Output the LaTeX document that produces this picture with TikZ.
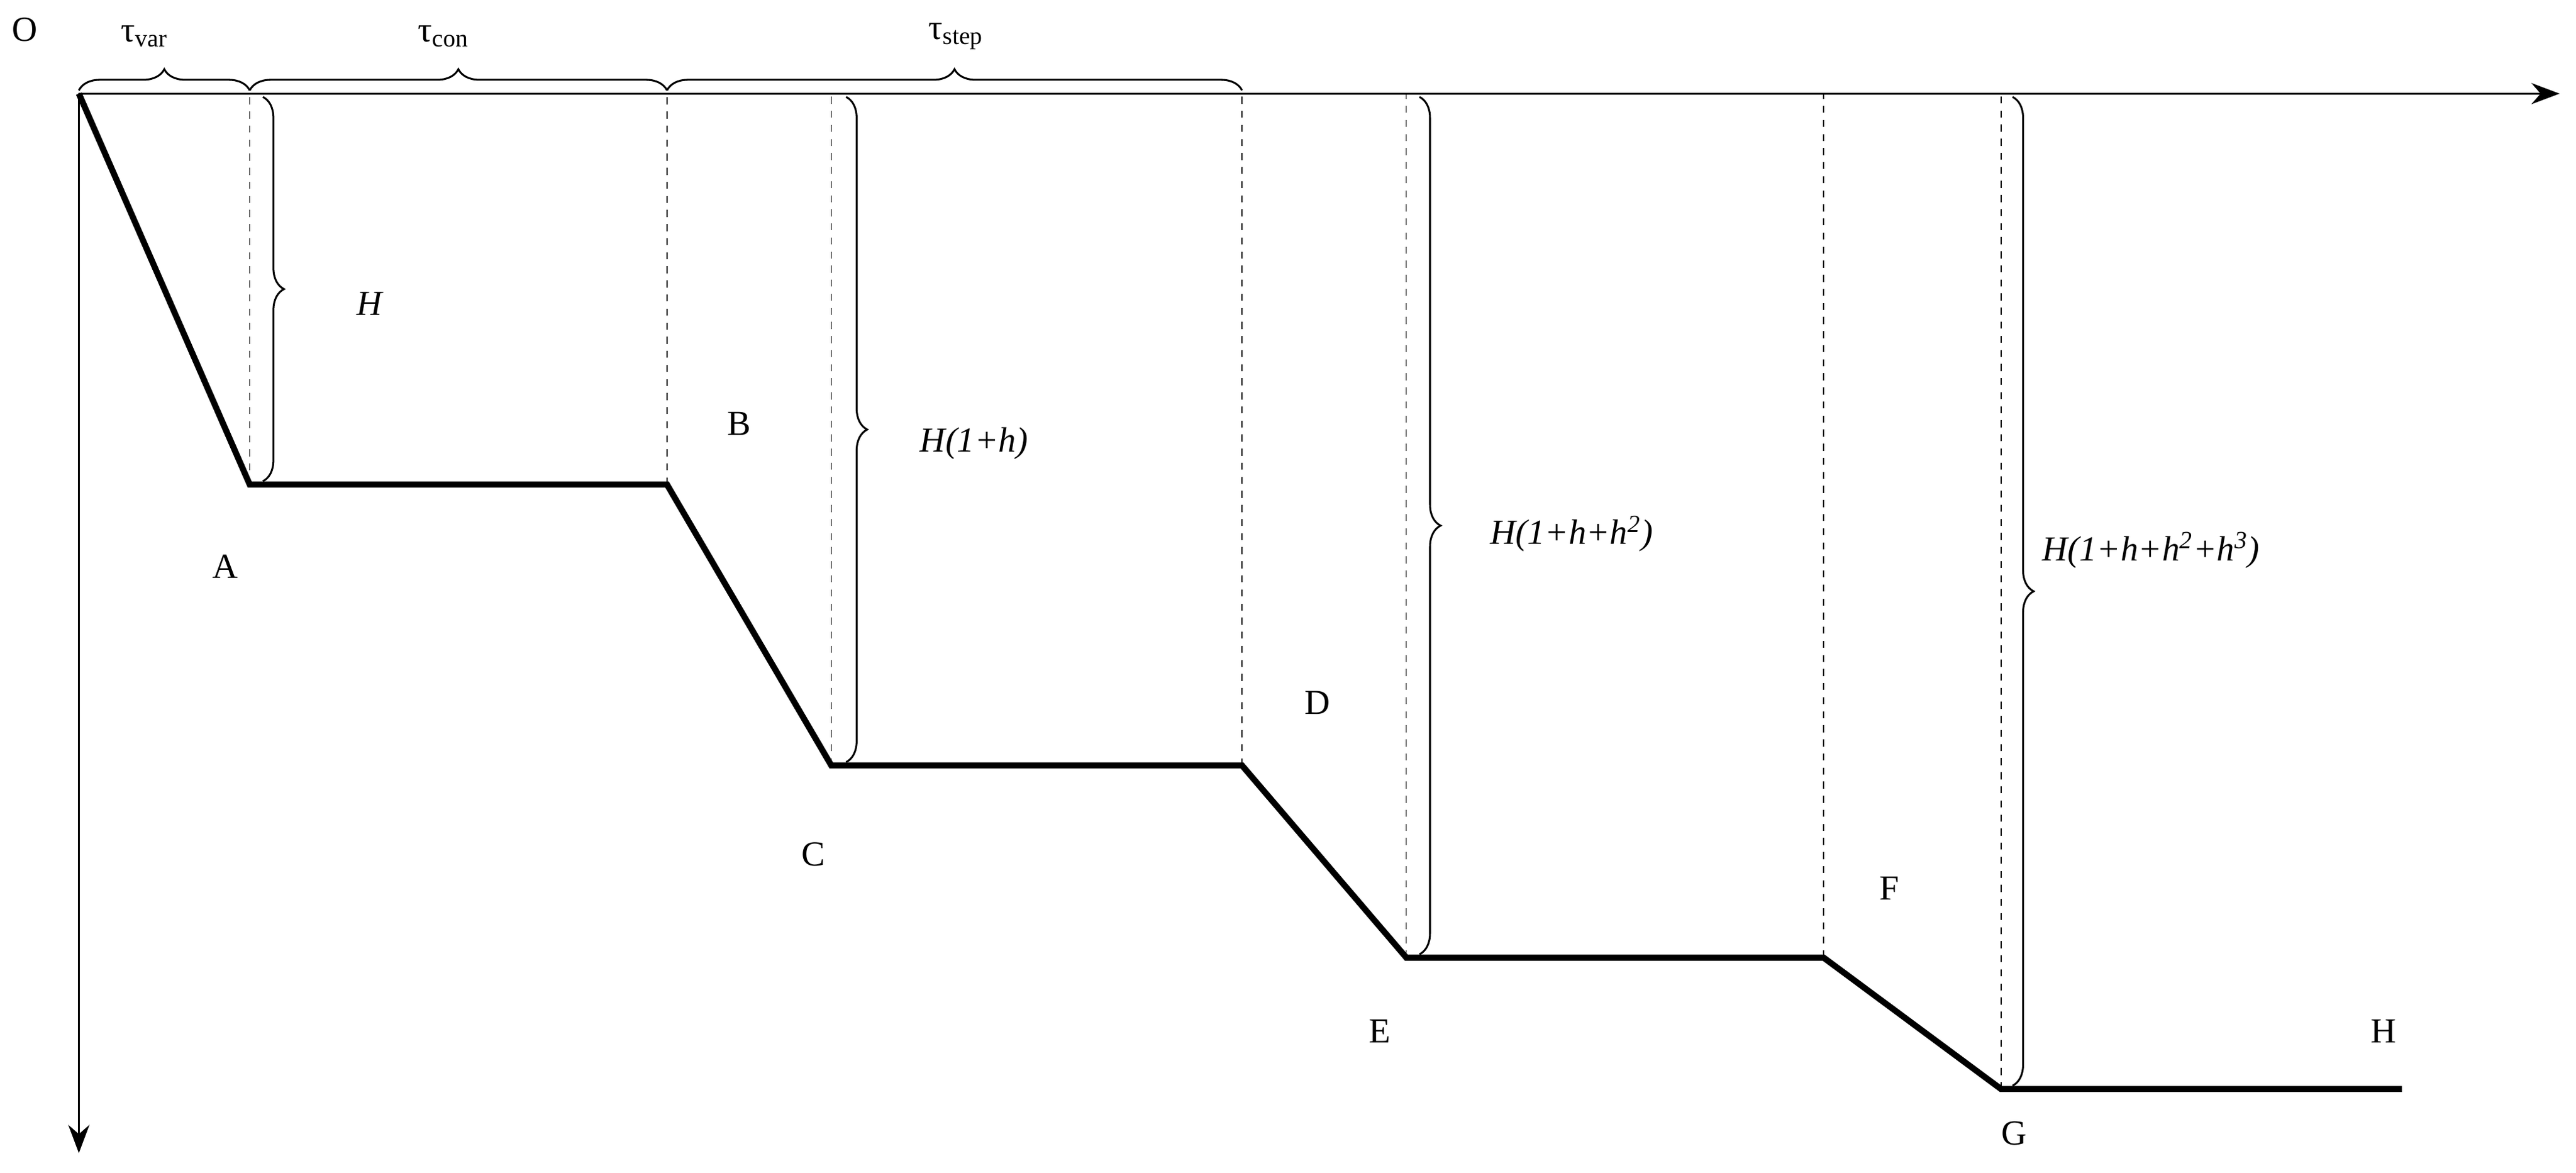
\documentclass[tikz,border=0pt]{standalone}
\usepackage{fontspec}
\setmainfont{Liberation Serif}
\usetikzlibrary{decorations.pathreplacing,arrows.meta}
\begin{document}
\begin{tikzpicture}[x=0.7pt,y=-0.7pt,
  thickline/.style={line width=2.6pt},
  dashline/.style={dashed,line width=0.4pt},
  br/.style={decorate,decoration={brace,amplitude=9pt},line width=0.8pt},
  lbl/.style={font=\fontsize{15}{17}\selectfont},
  ilbl/.style={font=\fontsize{15}{17}\selectfont\itshape,anchor=west}]
\path[use as bounding box] (0,0) rectangle (1568,714);
\coordinate (o) at (48,57);
\coordinate (xe) at (1558,57);
\coordinate (ye) at (48,702);
\draw[-{Stealth[length=12pt]},line width=0.9pt] (o) -- (xe);
\draw[-{Stealth[length=12pt]},line width=0.9pt] (o) -- (ye);
\coordinate (a) at (152,295);
\coordinate (a2) at (406,295);
\coordinate (c) at (506,466);
\coordinate (c2) at (756,466);
\coordinate (e) at (856,583);
\coordinate (e2) at (1110,583);
\coordinate (g) at (1218,663);
\coordinate (h) at (1462,663);
\draw[thickline] (o) -- (a) -- (a2) -- (c) -- (c2) -- (e) -- (e2) -- (g) -- (h);
\foreach \p in {a,a2,c,c2,e,e2,g} \draw[dashline] (\p) -- (\p |- o);
% top braces
\coordinate (t0) at (48,55); \coordinate (t1) at (152,55);
\coordinate (t2) at (406,55); \coordinate (t3) at (756,55);
\draw[br] (t0) -- (t1);
\draw[br] (t1) -- (t2);
\draw[br] (t2) -- (t3);
\node[lbl] (tv) at (88,22) {τ\textsubscript{var}};
\node[lbl] (tc) at (270,22) {τ\textsubscript{con}};
\node[lbl] (ts) at (582,22) {τ\textsubscript{step}};
% vertical braces
\draw[br] (160,59) -- (160,293);
\draw[br] (515,59) -- (515,464);
\draw[br] (864,59) -- (864,581);
\draw[br] (1225,59) -- (1225,661);
\node[ilbl] (l1) at (212,185) {H};
\node[ilbl] (l2) at (555,270) {H(1+h)};
\node[ilbl] (l3) at (902,325) {H(1+h+h\textsuperscript{2})};
\node[ilbl] (l4) at (1238,335) {H(1+h+h\textsuperscript{2}+h\textsuperscript{3})};
% letters
\node[lbl] (nO) at (15,18) {O};
\node[lbl] (nA) at (137,345) {A};
\node[lbl] (nB) at (450,258) {B};
\node[lbl] (nC) at (495,520) {C};
\node[lbl] (nD) at (802,428) {D};
\node[lbl] (nE) at (840,628) {E};
\node[lbl] (nF) at (1150,541) {F};
\node[lbl] (nG) at (1226,690) {G};
\node[lbl] (nH) at (1451,628) {H};
\end{tikzpicture}
\end{document}
